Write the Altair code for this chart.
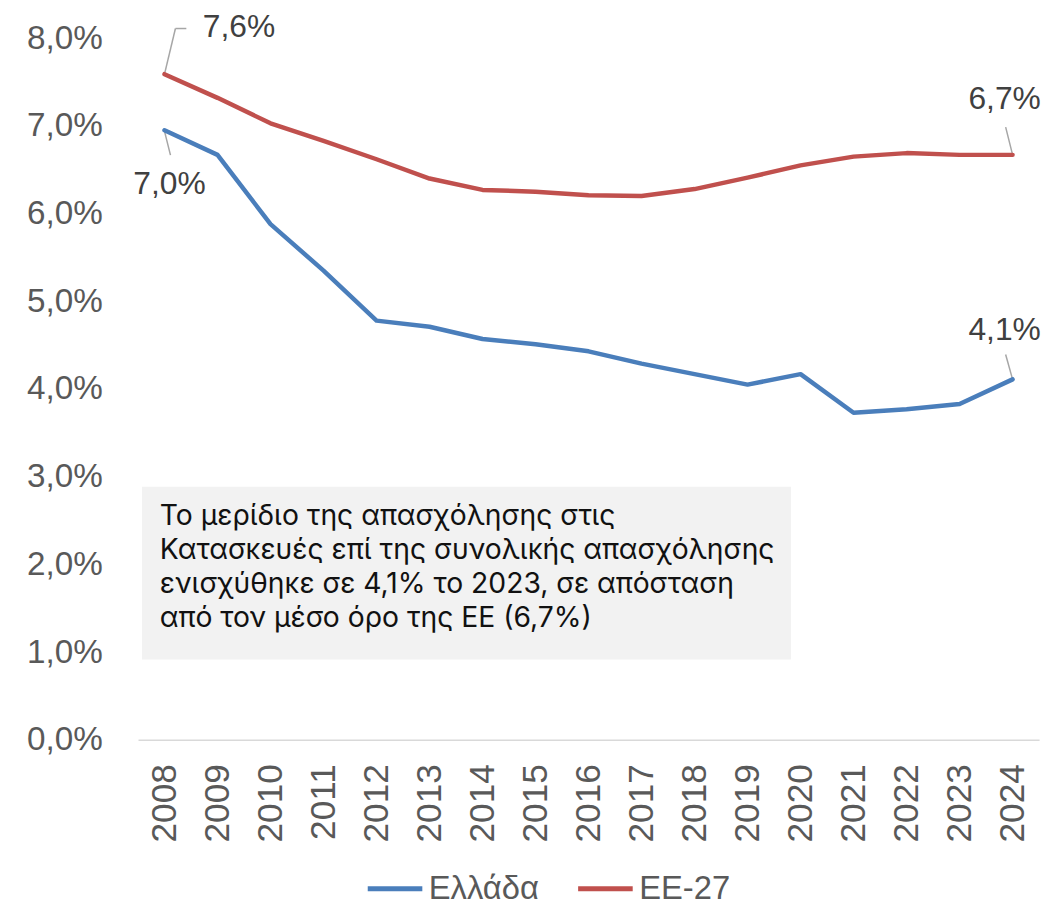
import altair as alt
import pandas as pd

# ---- data ----
years = [str(y) for y in range(2008, 2025)]
greece = [6.95, 6.67, 5.88, 5.35, 4.78, 4.71, 4.57, 4.51, 4.43, 4.29, 4.17, 4.05, 4.17, 3.73, 3.77, 3.83, 4.11]
eu27 = [7.59, 7.32, 7.03, 6.83, 6.62, 6.40, 6.27, 6.25, 6.21, 6.20, 6.28, 6.41, 6.55, 6.65, 6.69, 6.67, 6.67]
series_names = ["Ελλάδα", "ΕΕ-27"]
series_colors = ["#4a7ebb", "#c0504d"]

label_years = ["2008", "2008", "2024", "2024"]
label_values = [7.59, 6.95, 6.67, 4.11]
label_texts = ["7,6%", "7,0%", "6,7%", "4,1%"]
label_dx = [75, 5, -8, -8]
label_dy = [-47, 54, -56, -50]

# leader segments: anchor index, start offset, end offset (pixels)
leaders = [
    (0, 0, 0, 11, -46),
    (0, 11, -46, 22, -46),
    (1, 0, 1, 6, 25),
    (2, 0, 0, -7, -28),
    (3, 0, 0, -7, -25),
]

note_lines = [
    "Το μερίδιο της απασχόλησης στις",
    "Κατασκευές επί της συνολικής απασχόλησης",
    "ενισχύθηκε σε 4,1% το 2023, σε απόσταση",
    "από τον μέσο όρο της ΕΕ (6,7%)",
]

AX_FONT = "Liberation Sans"

df = pd.DataFrame({
    "year": years + years,
    "value": greece + eu27,
    "series": [series_names[0]] * len(years) + [series_names[1]] * len(years),
})
lab = pd.DataFrame({"year": label_years, "value": label_values, "text": label_texts})

x_enc = alt.X(
    "year:O", sort=years, title=None,
    scale=alt.Scale(type="point", padding=0.5),
    axis=alt.Axis(labelAngle=270, labelAlign="right", labelBaseline="middle",
                  labelFont=AX_FONT, labelFontSize=35.5, labelColor="#595959",
                  labelPadding=24, ticks=False, tickSize=0, domainColor="#d9d9d9",
                  domainWidth=1.5, grid=False),
)
y_enc = alt.Y(
    "value:Q", title=None,
    scale=alt.Scale(domain=[0, 8], nice=False),
    axis=alt.Axis(values=list(range(0, 9)), labelFont=AX_FONT, labelFontSize=33.5,
                  labelColor="#595959", labelPadding=36, ticks=False, tickSize=0,
                  domain=False, grid=False,
                  labelExpr="replace(format(datum.value, '.1f'), '.', ',') + '%'"),
)

# annotation box
box = alt.Chart(pd.DataFrame({"k": [0]})).mark_rect(color="#f2f2f2").encode(
    x=alt.value(4), x2=alt.value(658), y=alt.value(452), y2=alt.value(626)
)
note = alt.Chart(pd.DataFrame({"t": ["\n".join(note_lines)]})).mark_text(
    align="left", baseline="alphabetic", lineBreak="\n", lineHeight=34,
    font="Inter", fontSize=28.5, color="#111111"
).encode(x=alt.value(22), y=alt.value(491), text="t:N")

lines = alt.Chart(df).mark_line(strokeWidth=4.5, strokeJoin="round", strokeCap="round").encode(
    x=x_enc, y=y_enc,
    color=alt.Color("series:N", title=None,
                    scale=alt.Scale(domain=series_names, range=series_colors),
                    sort=series_names,
                    legend=alt.Legend(orient="none", legendX=229, legendY=827,
                                      direction="horizontal", symbolType="stroke",
                                      symbolStrokeWidth=5, symbolSize=3025,
                                      labelFont=AX_FONT, labelFontSize=33,
                                      labelColor="#595959", labelOffset=4,
                                      columnPadding=28, padding=0)),
)

layers = [box, note]
for idx, x1, y1, x2, y2 in leaders:
    seg = lab.iloc[[idx]]
    layers.append(
        alt.Chart(seg).mark_rule(color="#a6a6a6", strokeWidth=1.5,
                                 xOffset=x1, yOffset=y1, x2Offset=x2, y2Offset=y2).encode(
            x=alt.X("year:O", sort=years), y="value:Q",
            x2="year:O", y2="value:Q")
    )
layers.append(lines)
for i in range(len(label_texts)):
    layers.append(
        alt.Chart(lab.iloc[[i]]).mark_text(
            font=AX_FONT, fontSize=32, color="#404040", align="center",
            baseline="middle", dx=label_dx[i], dy=label_dy[i]
        ).encode(x=alt.X("year:O", sort=years), y="value:Q", text="text:N")
    )

chart = alt.layer(*layers).properties(
    width=908, height=707,
    autosize=alt.AutoSizeParams(type="none"),
    padding={"left": 131, "top": 27, "right": 12, "bottom": 165},
).configure_view(stroke=None)

chart.save("out.html", embed_options={"renderer": "svg", "actions": False})
